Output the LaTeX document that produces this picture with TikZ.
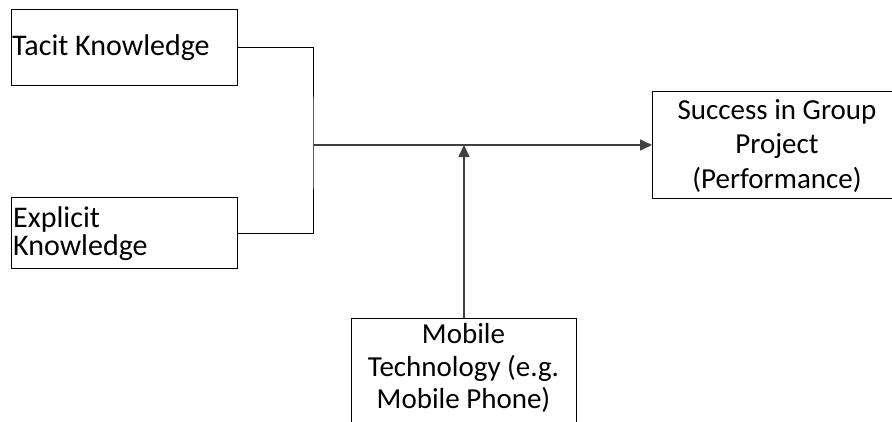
\documentclass[tikz,border=0pt]{standalone}
\usepackage{fontspec}
\setmainfont{Carlito}
\usetikzlibrary{arrows.meta}
\definecolor{linegray}{HTML}{404040}
\begin{document}
\begin{tikzpicture}[x=1pt,y=-1pt,
  box/.style={draw=black,line width=1pt,inner sep=0pt,anchor=north west},
  txt/.style={font=\fontsize{29}{35}\selectfont,inner sep=0pt,anchor=base},
  ltxt/.style={txt,font=\fontsize{30}{36}\selectfont,anchor=base west},
  link/.style={draw=black,line width=1pt},
  flow/.style={draw=linegray,line width=1.6pt,-{Triangle[length=12pt,width=11pt]}},
]
\useasboundingbox (0,0) rectangle (892,421);
\clip (0,0) rectangle (892,421);

% boxes
\node[box,minimum width=226pt,minimum height=76pt] (tacit) at (11,9) {};
\node[box,minimum width=226pt,minimum height=71pt] (explicit) at (11,197) {};
\node[box,minimum width=250pt,minimum height=107pt] (success) at (652,91) {};
\node[box,minimum width=225pt,minimum height=120pt] (mobile) at (351,318) {};

% labels
\node[ltxt] (tacitA) at (12,55) {Tacit Knowledge};
\node[ltxt] (explA) at (13,227) {Explicit};
\node[ltxt] (explB) at (13,255) {Knowledge};
\node[txt] (succA) at (777,119) {Success in Group};
\node[txt] (succB) at (777,153.5) {Project};
\node[txt] (succC) at (777,188.5) {(Performance)};
\node[txt] (mobA) at (463.5,343.5) {Mobile};
\node[txt] (mobB) at (463.5,376.5) {Technology (e.g.};
\node[txt] (mobC) at (463.5,408.5) {Mobile Phone)};

% connectors
\coordinate (junction) at (313,145);
\draw[link] (tacit.east) -| (junction) |- (explicit.east);
\draw[flow] (junction) -- (success.west |- junction);
\draw[flow] (mobile.north) -- (mobile.north |- junction);
\end{tikzpicture}
\end{document}
